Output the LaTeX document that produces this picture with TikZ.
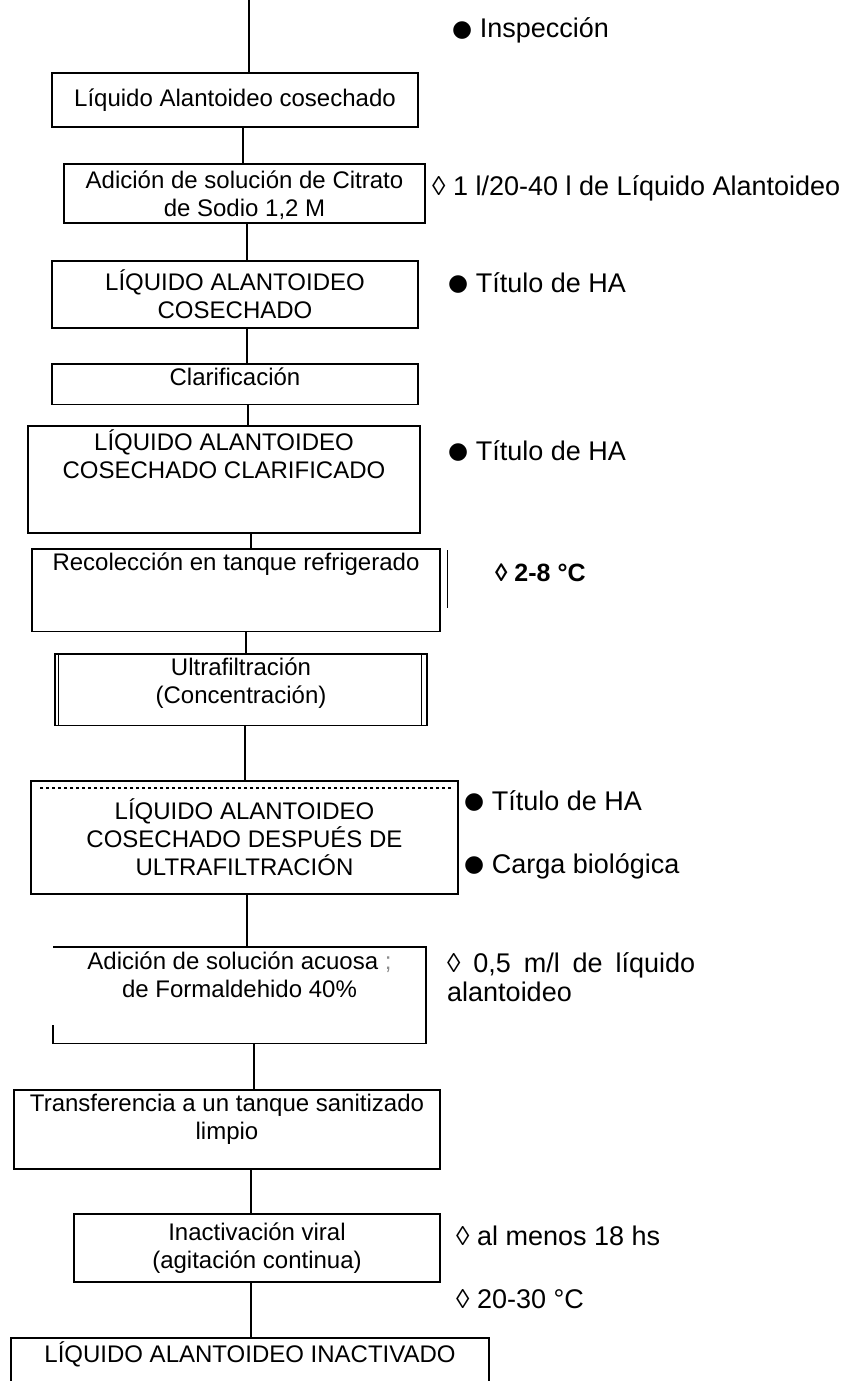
\documentclass[tikz,border=0pt]{standalone}
\usepackage{fontspec}
\setmainfont{Liberation Sans}
\newfontfamily\simbolos{DejaVu Sans}
\usepackage{tikz}
\usepackage{xcolor}
\newcommand\punto{\raisebox{1.5pt}{\simbolos\fontsize{23}{23}\selectfont ●}}

\begin{document}
\begin{tikzpicture}[x=1pt,y=-1pt,
  caja/.style={draw, line width=1.8pt, align=center, inner xsep=4pt, inner ysep=4pt,
    anchor=north, font=\fontsize{24}{28}\selectfont},
  nota/.style={anchor=base west, align=left, inner sep=0pt, font=\fontsize{27}{29}\selectfont},
  linea/.style={line width=1.1pt}]
\useasboundingbox (0,0) rectangle (848,1381);
\clip (0,0) rectangle (848,1381);

\coordinate (inicio) at (249,0);
\node[caja, minimum width=366pt, minimum height=54pt] (liq) at (235,72) {Líquido Alantoideo cosechado};
\node[caja, minimum width=361pt, minimum height=59pt, text depth=0pt] (cit) at (244.5,163) {Adición de solución de Citrato\\de Sodio 1,2 M};
\node[caja, minimum width=366pt, minimum height=67pt] (cosech) at (235,260) {LÍQUIDO ALANTOIDEO\\COSECHADO};
\node[caja, minimum width=366pt, text depth=15pt] (clar) at (235,363) {Clarificación};
\node[caja, minimum width=392pt, text depth=50pt] (clarif) at (224,425) {LÍQUIDO ALANTOIDEO\\COSECHADO CLARIFICADO};
\node[caja, minimum width=408pt, text depth=57pt] (recol) at (236,548) {Recolección en tanque refrigerado};
\node[caja, minimum width=372pt, text depth=18pt] (ultraf) at (241,653) {Ultrafiltración\\(Concentración)};
\node[caja, minimum width=427pt, minimum height=113pt] (ultra) at (244.5,780) {LÍQUIDO ALANTOIDEO\\COSECHADO DESPUÉS DE\\ULTRAFILTRACIÓN};
\node[caja, draw=none, minimum width=371pt, text depth=41pt] (form) at (239.5,947) {Adición de solución acuosa \textcolor{black!45}{;}\\de Formaldehido 40\%};
\node[caja, minimum width=426pt, text depth=26pt] (transf) at (227,1089) {Transferencia a un tanque sanitizado\\limpio};
\node[caja, minimum width=366pt, minimum height=68pt] (inact) at (257,1213) {Inactivación viral\\(agitación continua)};
\node[caja, minimum width=478pt, text depth=50pt] (final) at (250,1337) {LÍQUIDO ALANTOIDEO INACTIVADO};

% notas
\node[nota] (insp) at (452,38) {\punto\ Inspección};
\node[nota] (dosis) at (432,195) {◊ 1 l/20-40 l de Líquido Alantoideo};
\node[nota] (tit1) at (448,292) {\punto\ Título de HA};
\node[nota] (tit2) at (448,460) {\punto\ Título de HA};
\node[nota, font=\fontsize{25}{29}\selectfont\bfseries] (frio) at (495,581) {◊ 2-8 °C};
\node[nota] (tit3) at (464,810) {\punto\ Título de HA};
\node[nota] (carga) at (464,873) {\punto\ Carga biológica};
\node[nota, anchor=north west] (formol) at (447,952) {\makebox[248pt][s]{◊ 0,5 m/l de líquido}\\alantoideo};
\node[nota] (horas) at (456,1245) {◊ al menos 18 hs};
\node[nota] (temp) at (456,1308) {◊ 20-30 °C};

% bordes sueltos
\draw[line width=1.8pt] (form.south west) ++(0,-18) -- (form.south west) -- (form.south east)
  -- (form.north east) -- (form.north west);
\draw[line width=1pt] ([shift={(7,2)}]recol.north east) -- ++(0,58);
\draw[line width=1pt] ([xshift=4pt]ultraf.north west) -- ([xshift=4pt]ultraf.south west);
\draw[line width=1pt] ([xshift=-6pt]ultraf.north east) -- ([xshift=-6pt]ultraf.south east);
\draw[line width=1.2pt, dashed] ([shift={(10,8)}]ultra.north west) -- ([shift={(-7,8)}]ultra.north east);

% conectores
\draw[linea] (inicio) -- (liq.north -| inicio);
\draw[linea] (liq.south -| 243,0) -- (cit.north -| 243,0);
\draw[linea] (cit.south -| 247,0) -- (cosech.north -| 247,0);
\draw[linea] (cosech.south -| 247,0) -- (clar.north -| 247,0);
\draw[linea] (clar.south -| 248,0) -- (clarif.north -| 248,0);
\draw[linea] (clarif.south -| 251,0) -- (recol.north -| 251,0);
\draw[linea] (recol.south -| 246,0) -- (ultraf.north -| 246,0);
\draw[linea] (ultraf.south -| 245,0) -- (ultra.north -| 245,0);
\draw[linea] (ultra.south -| 247,0) -- (form.north -| 247,0);
\draw[linea] (form.south -| 254,0) -- (transf.north -| 254,0);
\draw[linea] (transf.south -| 251,0) -- (inact.north -| 251,0);
\draw[linea] (inact.south -| 251,0) -- (final.north -| 251,0);
\end{tikzpicture}
\end{document}
